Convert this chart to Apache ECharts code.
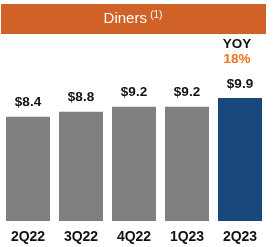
<!DOCTYPE html>
<html>
<head>
<meta charset="utf-8">
<script src="https://cdn.jsdelivr.net/npm/echarts@6/dist/echarts.min.js"></script>
<style>
  html, body { margin: 0; padding: 0; background: #fff; }
  #chart { width: 277px; height: 247px; }
</style>
</head>
<body>
<div id="chart"></div>
<script>
const categories = ['2Q22', '3Q22', '4Q22', '1Q23', '2Q23']
const values = [8.4, 8.8, 9.2, 9.2, 9.9]
const barColors = ['#808080', '#808080', '#808080', '#808080', '#1B487C']
const yoyLabel = 'YOY'
const yoyValue = '18%'

const chart = echarts.init(document.getElementById('chart'))

const option = {
  animation: false,
  graphic: [
    {
      type: 'rect',
      shape: { x: 1, y: 4, width: 265, height: 30 },
      style: { fill: '#D06127' }
    },
    {
      type: 'text',
      x: 133,
      y: 19,
      style: {
        text: '{m|Diners} {s|(1)}',
        align: 'center',
        verticalAlign: 'middle',
        rich: {
          m: { fill: '#fff', fontSize: 15, fontFamily: 'Liberation Sans, Arial', verticalAlign: 'middle' },
          s: { fill: '#fff', fontSize: 10, fontFamily: 'Liberation Sans, Arial', verticalAlign: 'top', padding: [0, 0, 8, 0] }
        }
      }
    },
    {
      type: 'text',
      x: 237,
      y: 44,
      style: {
        text: yoyLabel,
        align: 'center',
        verticalAlign: 'middle',
        fill: '#111',
        fontSize: 13.5,
        fontWeight: 'bold',
        fontFamily: 'Liberation Sans, Arial'
      }
    },
    {
      type: 'text',
      x: 237,
      y: 59,
      style: {
        text: yoyValue,
        align: 'center',
        verticalAlign: 'middle',
        fill: '#F37021',
        fontSize: 13.5,
        fontWeight: 'bold',
        fontFamily: 'Liberation Sans, Arial'
      }
    }
  ],
  grid: { left: 1.5, width: 265, top: 72, bottom: 26 },
  xAxis: {
    type: 'category',
    data: categories,
    axisLine: { show: false },
    axisTick: { show: false },
    axisLabel: {
      color: '#111',
      fontSize: 14,
      fontWeight: 'bold',
      fontFamily: 'Liberation Sans, Arial',
      margin: 9
    }
  },
  yAxis: {
    type: 'value',
    min: 0,
    max: 12,
    show: false,
    splitLine: { show: false }
  },
  series: [
    {
      type: 'bar',
      barWidth: 44,
      data: values.map((v, i) => ({ value: v, itemStyle: { color: barColors[i] } })),
      label: {
        show: true,
        position: 'top',
        distance: 7,
        formatter: p => '$' + p.value.toFixed(1),
        color: '#111',
        fontSize: 13.5,
        fontWeight: 'bold',
        fontFamily: 'Liberation Sans, Arial'
      }
    }
  ]
}

chart.setOption(option)
</script>
</body>
</html>
